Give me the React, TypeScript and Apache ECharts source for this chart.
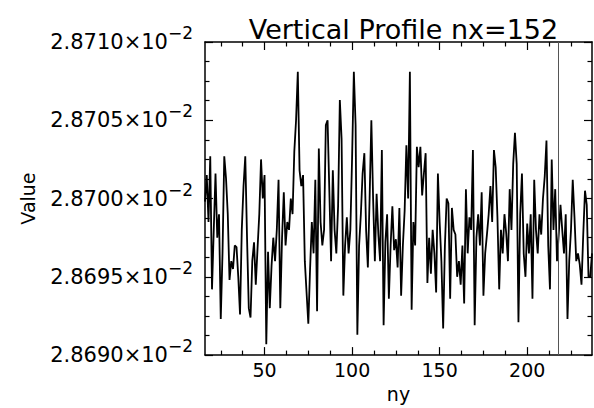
import React, { useEffect, useRef } from "react";
import * as echarts from "echarts";

const chartTitle = "Vertical Profile nx=152";
const xName = "ny";
const yName = "Value";
const nyStart = 16;
const nyEnd = 237;
const markerNy = 218;
const xMajorTicks = [50, 100, 150, 200];
const xMinorTicks = [25, 37.5, 62.5, 75, 87.5, 112.5, 125, 137.5, 162.5, 175, 187.5, 212.5, 225];
const yMin = 0.02869;
const yMax = 0.02871;
const yStep = 0.000005;

// values for ny = 16 .. 65
const profileA = [
  0.0286998, 0.0287015, 0.0286985, 0.0287027, 0.0286942, 0.028698, 0.0287016, 0.0286975, 0.028699, 0.0286923,
  0.0286965, 0.0287027, 0.0287013, 0.028699, 0.0286948, 0.028696, 0.0286955, 0.028697, 0.0286969, 0.028695,
  0.0286926, 0.028698, 0.0287008, 0.0287027, 0.0286975, 0.028693, 0.0286924, 0.028696, 0.0286972, 0.0286945,
  0.0286968, 0.028699, 0.0287025, 0.0287, 0.0287015, 0.0286907, 0.0286966, 0.028693, 0.0286957, 0.0286975,
  0.028696, 0.028698, 0.0287012, 0.028693, 0.0286975, 0.0287004, 0.028697, 0.0286985, 0.028698, 0.0287,
];
// values for ny = 66 .. 115
const profileB = [
  0.028699, 0.028703, 0.028705, 0.0287081, 0.0287018, 0.0287008, 0.0287015, 0.028696, 0.028694, 0.028692,
  0.0286955, 0.0286985, 0.0286965, 0.0287012, 0.0286928, 0.0287032, 0.0286985, 0.028697, 0.028698, 0.0287047,
  0.028705, 0.0287005, 0.028696, 0.0287018, 0.028698, 0.0286965, 0.0286995, 0.0287063, 0.0287038, 0.0286938,
  0.028697, 0.0286988, 0.0286965, 0.028698, 0.0287026, 0.0287081, 0.0287047, 0.0286913, 0.028697, 0.028699,
  0.0287016, 0.0287029, 0.028698, 0.0286956, 0.0287, 0.028705, 0.0287, 0.028696, 0.0287003, 0.0286977,
];
// values for ny = 116 .. 165
const profileC = [
  0.028696, 0.0287031, 0.0286919, 0.0286972, 0.028699, 0.0286936, 0.028697, 0.0286995, 0.0286967, 0.0286974,
  0.0286956, 0.0286994, 0.0286938, 0.028697, 0.0286992, 0.0287034, 0.0287, 0.0287081, 0.0286929, 0.0286985,
  0.028697, 0.0287033, 0.028702, 0.0287033, 0.0287002, 0.0287016, 0.0287029, 0.0286946, 0.0286975, 0.0286952,
  0.028698, 0.0286965, 0.028694, 0.0287016, 0.0286985, 0.028696, 0.0286917, 0.028697, 0.0287, 0.0286997,
  0.0286936, 0.0286994, 0.028698, 0.0286977, 0.028695, 0.028696, 0.0286945, 0.028697, 0.0286933, 0.0287006,
];
// values for ny = 166 .. 215
const profileD = [
  0.0286965, 0.0286988, 0.028698, 0.0287031, 0.0286919, 0.0286975, 0.028699, 0.028697, 0.0287004, 0.0286938,
  0.0286965, 0.0286977, 0.028699, 0.0287008, 0.0286985, 0.0287031, 0.028702, 0.0286988, 0.0286942, 0.028698,
  0.0286965, 0.028699, 0.0286978, 0.028696, 0.0287006, 0.028698, 0.0287022, 0.0287042, 0.0287022, 0.0286921,
  0.028699, 0.0287016, 0.0286965, 0.028695, 0.0286984, 0.0286965, 0.028699, 0.0286936, 0.0287012, 0.028698,
  0.0286965, 0.028699, 0.0286977, 0.0287, 0.0287014, 0.0287037, 0.028697, 0.0286942, 0.0287025, 0.028698,
];
// values for ny = 216 .. 237
const profileE = [
  0.0287006, 0.028696, 0.0286977, 0.0286996, 0.028698, 0.0286965, 0.028699, 0.0286923, 0.028696, 0.028698,
  0.0287012, 0.0286988, 0.028696, 0.0286965, 0.0286958, 0.0286945, 0.0286977, 0.0287005, 0.0286996, 0.028695,
  0.028695, 0.0286965,
];

const FONT = "DejaVu Sans";

export default function App() {
  const ref = useRef<HTMLDivElement>(null);
  useEffect(() => {
    if (!ref.current) return;
    const chart = echarts.init(ref.current, undefined, { renderer: "svg" });
    const values = [...profileA, ...profileB, ...profileC, ...profileD, ...profileE];
    const data = values.map((v, i) => [nyStart + i, v]);
    const black = "#000";
    const axisLine = { show: true, onZero: false, lineStyle: { color: black, width: 1.5 } };
    const noLine = { show: false, onZero: false };
    const majorTick = (vals: number[]) => ({
      show: true, inside: true, length: 8, customValues: vals, lineStyle: { color: black, width: 1.2 },
    });
    const minorTick = (vals: number[]) => ({
      show: true, inside: true, length: 4.5, customValues: vals, lineStyle: { color: black, width: 1.2 },
    });
    const xBase = { type: "value", min: nyStart, max: nyEnd, gridIndex: 0, splitLine: { show: false } };
    const yBase = {
      type: "value", min: yMin, max: yMax, interval: yStep, splitLine: { show: false },
      axisLine, axisTick: { show: true, inside: true, length: 8, lineStyle: { color: black, width: 1.2 } },
      minorTick: { show: true, splitNumber: 4, length: 4.5, lineStyle: { color: black, width: 1.2 } },
    };
    chart.setOption({
      animation: false,
      backgroundColor: "#fff",
      title: {
        text: chartTitle, left: 398.5, top: 11, textAlign: "center",
        textStyle: { fontFamily: FONT, fontSize: 27, fontWeight: "normal", color: black },
      },
      grid: { left: 205, top: 42, right: 2, bottom: 44 },
      xAxis: [
        {
          ...xBase, position: "bottom", axisLine, axisTick: majorTick(xMajorTicks),
          axisLabel: { customValues: xMajorTicks, fontFamily: FONT, fontSize: 19, color: black, margin: 5 },
          name: xName, nameLocation: "middle", nameGap: 19.5,
          nameTextStyle: { fontFamily: FONT, fontSize: 19, color: black },
        },
        { ...xBase, position: "bottom", axisLine: noLine, axisTick: minorTick(xMinorTicks), axisLabel: { show: false } },
        { ...xBase, position: "top", axisLine, axisTick: majorTick(xMajorTicks), axisLabel: { show: false } },
        { ...xBase, position: "top", axisLine: noLine, axisTick: minorTick(xMinorTicks), axisLabel: { show: false } },
      ],
      yAxis: [
        {
          ...yBase, position: "left",
          axisLabel: {
            margin: 12, color: black, fontFamily: FONT, fontSize: 21,
            formatter: (v: number) => `{m|${(v * 100).toFixed(4)}×10}{s|−2}`,
            rich: {
              m: { fontFamily: FONT, fontSize: 21, lineHeight: 22, color: black },
              s: { fontFamily: FONT, fontSize: 17, lineHeight: 18, padding: [0, 0, 18, 0], color: black },
            },
          },
          name: yName, nameLocation: "middle", nameGap: 168,
          nameTextStyle: { fontFamily: FONT, fontSize: 19, color: black },
        },
        { ...yBase, position: "right", axisLabel: { show: false } },
      ],
      series: [
        {
          type: "line", xAxisIndex: 0, yAxisIndex: 0, data, symbol: "none", showSymbol: false,
          lineStyle: { color: black, width: 1.8 },
          markLine: {
            silent: true, symbol: ["none", "none"], label: { show: false },
            lineStyle: { color: "#555", width: 1, type: "solid" },
            data: [{ xAxis: markerNy }],
          },
        },
      ],
    });
    return () => chart.dispose();
  }, []);
  return <div ref={ref} style={{ position: "fixed", left: 0, top: 0, width: 594, height: 408 }} />;
}
